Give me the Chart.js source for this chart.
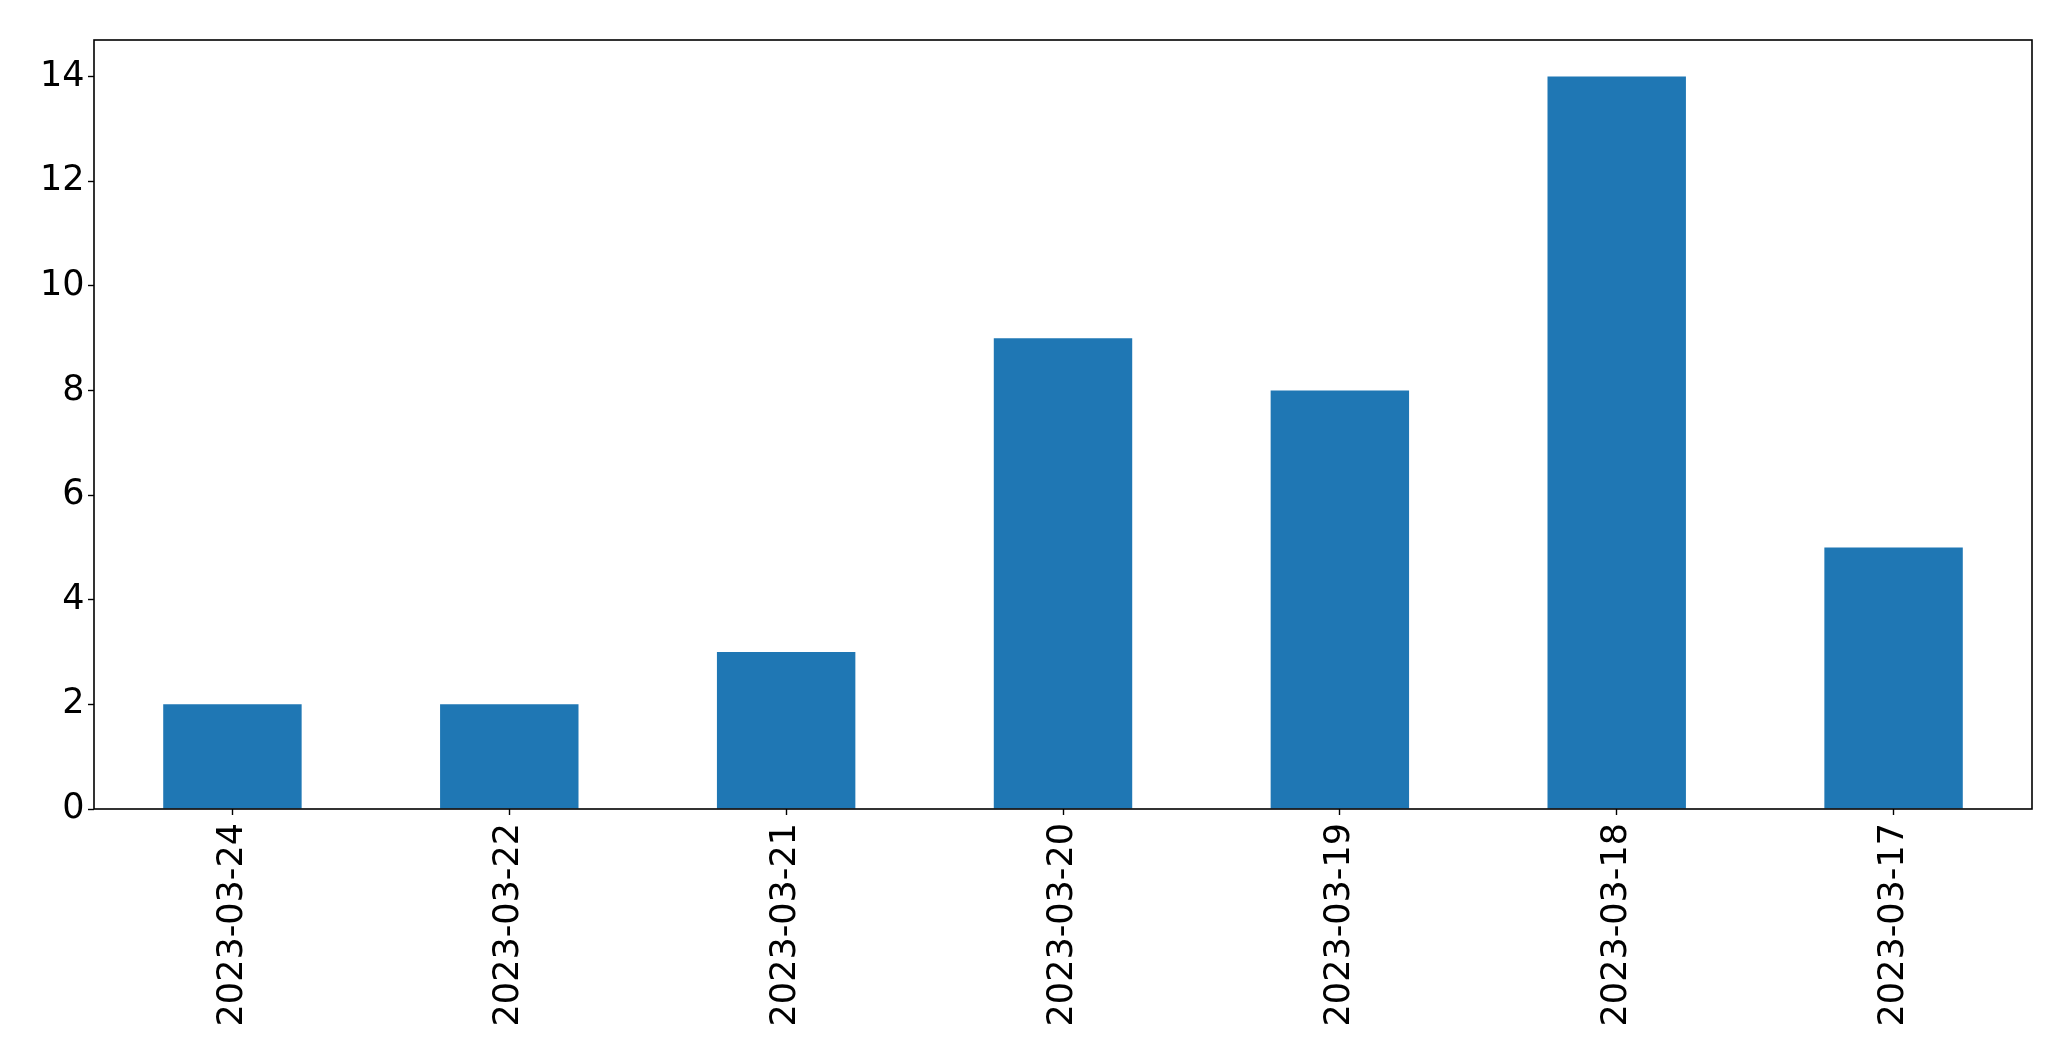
<!DOCTYPE html>
<html>
<head>
<meta charset="utf-8">
<script src="https://cdn.jsdelivr.net/npm/chart.js@4/dist/chart.umd.min.js"></script>
<style>
    html, body {margin: 0; padding: 0; background: #fff;}
    #wrap {width: 2071px; height: 1061px;}
</style>
</head>
<body>
<div id="wrap"><canvas id="chart" width="2071" height="1061"></canvas></div>
<script>
const dates = ["2023-03-24", "2023-03-22", "2023-03-21", "2023-03-20", "2023-03-19", "2023-03-18", "2023-03-17"];
const counts = [2, 2, 3, 9, 8, 14, 5];
const yTicks = [0, 2, 4, 6, 8, 10, 12, 14];

// frame around the plot area, like a matplotlib axes box
const frame = {
    id: "frame",
    afterDraw(chart) {
        const a = chart.chartArea;
        const ctx = chart.ctx;
        ctx.save();
        ctx.strokeStyle = "#000";
        ctx.lineWidth = 1.6;
        ctx.strokeRect(a.left, a.top, a.right - a.left, a.bottom - a.top);
        ctx.restore();
    },
};

const font = {family: "DejaVu Sans", size: 35};

new Chart(document.getElementById("chart"), {
    type: "bar",
    data: {
        labels: dates,
        datasets: [
            {
                data: counts,
                backgroundColor: "#1f77b4",
                categoryPercentage: 1,
                barPercentage: 0.5,
            },
        ],
    },
    options: {
        responsive: false,
        animation: false,
        layout: {padding: {left: 0, top: 40, right: 39, bottom: 0}},
        plugins: {legend: {display: false}, tooltip: {enabled: false}},
        scales: {
            x: {
                afterFit(scale) {
                    scale.height = 252;
                },
                grid: {offset: false, drawOnChartArea: false, tickLength: 6, tickColor: "#000", tickWidth: 1.4},
                border: {display: false},
                ticks: {color: "#000", font: font, maxRotation: 90, minRotation: 90, padding: 8, autoSkip: false},
            },
            y: {
                min: 0,
                max: 14.7,
                afterFit(scale) {
                    scale.width = 94;
                },
                afterBuildTicks(scale) {
                    scale.ticks = yTicks.map((v) => ({value: v}));
                },
                grid: {drawOnChartArea: false, tickLength: 6, tickColor: "#000", tickWidth: 1.4},
                border: {display: false},
                ticks: {color: "#000", font: font, padding: 3.5},
            },
        },
    },
    plugins: [frame],
});
</script>
</body>
</html>
